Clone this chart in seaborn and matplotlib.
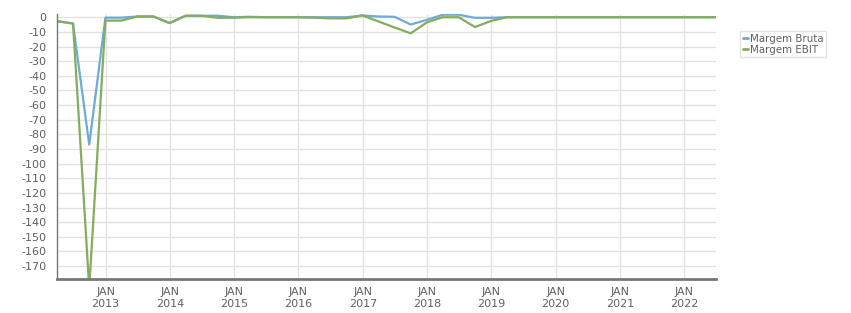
import matplotlib
matplotlib.use("Agg")
import matplotlib.pyplot as plt
import matplotlib.dates as mdates
import seaborn as sns
import pandas as pd
import numpy as np

dates = pd.date_range("2012-03-31", "2022-06-30", freq="QE")
margem_bruta = [-2.7, -4.3, -87, -0.3, -0.3, 0.5, 0.5, -4, 1, 1,
                1, 0, 0.3, 0, 0, 0, 0, 0, 0, 1.2,
                0.5, 0.3, -5, -1.8, 1.7, 1.7, -0.4, -0.4, 0, 0,
                0, 0, 0, 0, 0, 0, 0, 0, 0, 0, 0, 0]
margem_ebit = [-2.7, -4.3, -185, -2.3, -2.3, 0.5, 0.5, -4, 1, 1,
               -0.4, -0.3, 0, 0, 0, 0, -0.3, -0.8, -0.8, 1.2,
               -2.9, -7, -11, -3.5, 0, 0, -6.7, -2.5, 0, 0,
               0, 0, 0, 0, 0, 0, 0, 0, 0, 0, 0, 0]
series_names = ["Margem Bruta", "Margem EBIT"]
colors = ["#6eabd7", "#84ad5e"]

df = pd.DataFrame({
    "date": list(dates) * 2,
    "value": margem_bruta + margem_ebit,
    "serie": [series_names[0]] * len(dates) + [series_names[1]] * len(dates),
})

sns.set_style("white")
fig = plt.figure(figsize=(8.51, 3.13), dpi=100)
ax = fig.add_axes([57 / 851, 34 / 313, (716 - 57) / 851, (279 - 14) / 313])

sns.lineplot(data=df, x="date", y="value", hue="serie", palette=colors,
             linewidth=1.6, ax=ax, legend=True)

ax.set_xlim(dates[0], dates[-1])
ax.set_ylim(-178.8, 2.2)
ax.set_yticks(np.arange(0, -171, -10))
ax.set_yticklabels([str(v) for v in range(0, -171, -10)])
years = list(range(2013, 2023))
ax.set_xticks([pd.Timestamp(f"{y}-01-01") for y in years])
ax.set_xticklabels([f"JAN\n{y}" for y in years])

ax.grid(True, color="#e2e2e2", linewidth=1)
ax.set_axisbelow(True)
for s in ["top", "right"]:
    ax.spines[s].set_visible(False)
ax.spines["left"].set_color("#777777")
ax.spines["left"].set_linewidth(1)
ax.spines["bottom"].set_color("#777777")
ax.spines["bottom"].set_linewidth(2)
ax.tick_params(axis="both", colors="#777777", labelcolor="#606060",
               labelsize=8, length=4, width=1)
ax.tick_params(axis="x", pad=2)
ax.set_xlabel("")
ax.set_ylabel("")

leg = ax.legend(loc="upper left", bbox_to_anchor=(740 / 851, 1 - 31 / 313),
                bbox_transform=fig.transFigure, frameon=True, fontsize=7.4,
                handlelength=0.5, handletextpad=0.25, borderpad=0.25,
                labelspacing=0.1, fancybox=False, borderaxespad=0)
leg.get_frame().set_edgecolor("#dddddd")
leg.get_frame().set_linewidth(1)
for t in leg.get_texts():
    t.set_color("#606060")
for l in leg.get_lines():
    l.set_linewidth(2)

fig.savefig("out.png", dpi=100)
